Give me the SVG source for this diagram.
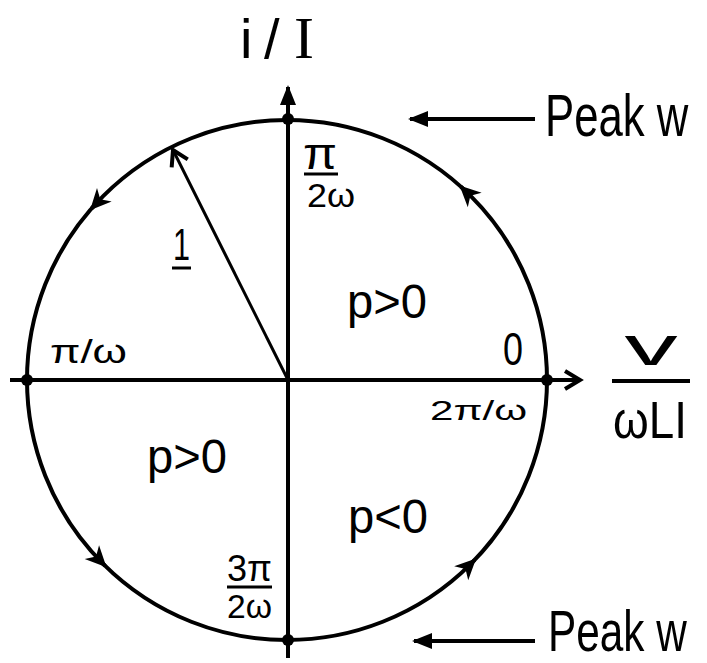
<svg xmlns="http://www.w3.org/2000/svg" width="707" height="663" viewBox="0 0 707 663">
<style>
.t{font-family:"Liberation Sans","DejaVu Sans",sans-serif;fill:#000}
.s{font-family:"Liberation Serif","DejaVu Serif",serif}
.ln{stroke:#000;stroke-width:4;fill:none}
.thin{stroke:#000;stroke-width:3;fill:none}
</style>
<defs>
<marker id="tri" markerUnits="userSpaceOnUse" viewBox="-22 -12 26 24" markerWidth="26" markerHeight="24" refX="0" refY="0" orient="auto">
<path d="M-18,-8 L2,0 L-18,8 z" fill="#000"/>
</marker>
<marker id="chev" markerUnits="userSpaceOnUse" viewBox="-22 -12 26 24" markerWidth="26" markerHeight="24" refX="0" refY="0" orient="auto">
<path d="M-15,-9 L0,0 L-15,9" fill="none" stroke="#000" stroke-width="4"/>
</marker>
<marker id="ctri" markerUnits="userSpaceOnUse" viewBox="-24 -14 28 28" markerWidth="28" markerHeight="28" refX="0" refY="0" orient="auto">
<path d="M-19,-10 L2,0 L-19,10 L-13,0 z" fill="#000"/>
</marker>
</defs>
<g id="circle">
<circle cx="287" cy="380" r="260" class="ln"/>
</g>
<g id="connectors">
<line x1="288" y1="658" x2="288" y2="87" class="ln" marker-end="url(#tri)"/>
<line x1="10" y1="380" x2="580" y2="380" class="ln" marker-end="url(#chev)"/>
<line x1="288" y1="380" x2="173" y2="150" class="thin" marker-end="url(#chev)"/>
<line x1="535" y1="119" x2="410" y2="119" class="ln" marker-end="url(#tri)"/>
<line x1="535" y1="641" x2="414" y2="641" class="ln" marker-end="url(#tri)"/>
<line x1="100.5" y1="198.9" x2="91.4" y2="208.7" class="ln" marker-end="url(#ctri)"/>
<line x1="470.8" y1="196.2" x2="461.0" y2="186.8" class="ln" marker-end="url(#ctri)"/>
<line x1="95.6" y1="556.0" x2="105.1" y2="565.8" class="ln" marker-end="url(#ctri)"/>
<line x1="465.0" y1="569.5" x2="474.7" y2="559.9" class="ln" marker-end="url(#ctri)"/>
</g>
<g id="dots" fill="#000">
<circle cx="288" cy="119" r="6"/>
<circle cx="288" cy="640" r="6"/>
<circle cx="27" cy="380" r="6"/>
<circle cx="547" cy="380" r="6"/>
</g>
<g id="axis-label-y">
<text class="t" y="58" font-size="56"><tspan x="240">i</tspan><tspan x="264">/</tspan><tspan x="294" class="s" font-size="60">I</tspan></text>
</g>
<g id="axis-label-x">
<text class="t" font-size="56" text-anchor="middle" transform="translate(651,365) scale(1.9,1)">v</text>
<line x1="612" y1="381" x2="690" y2="381" class="ln"/>
<text class="t" font-size="52" transform="translate(613,438) scale(0.88,1)">ωLI</text>
</g>
<g id="peak-top">
<text class="t" font-size="46" transform="translate(545,136) scale(0.95,1.3)">Peak w</text>
</g>
<g id="peak-bottom">
<text class="t" font-size="46" transform="translate(548,651) scale(0.92,1.25)">Peak w</text>
</g>
<g id="label-top">
<text class="t" x="320" y="169" font-size="44" text-anchor="middle" textLength="34" lengthAdjust="spacingAndGlyphs">π</text>
<line x1="304" y1="174" x2="338" y2="174" class="thin"/>
<text class="t" x="307" y="207" font-size="34" textLength="48" lengthAdjust="spacingAndGlyphs">2ω</text>
</g>
<g id="label-bottom">
<text class="t" x="227" y="581" font-size="36" textLength="45" lengthAdjust="spacingAndGlyphs">3π</text>
<line x1="227" y1="587" x2="272" y2="587" class="thin"/>
<text class="t" x="227" y="618" font-size="34" textLength="45" lengthAdjust="spacingAndGlyphs">2ω</text>
</g>
<g id="label-left">
<text class="t" x="50" y="363" font-size="34" textLength="77" lengthAdjust="spacingAndGlyphs">π/ω</text>
</g>
<g id="label-right">
<text class="t" x="503" y="365" font-size="46" textLength="20" lengthAdjust="spacingAndGlyphs">0</text>
<text class="t" x="430" y="420" font-size="28" textLength="97" lengthAdjust="spacingAndGlyphs">2π/ω</text>
</g>
<g id="label-radius">
<text class="t" x="173" y="260" font-size="44" textLength="17" lengthAdjust="spacingAndGlyphs">1</text>
<line x1="172" y1="268" x2="191" y2="268" class="thin"/>
</g>
<g id="quadrants">
<text class="t" x="347" y="318" font-size="48" textLength="80" lengthAdjust="spacingAndGlyphs">p&gt;0</text>
<text class="t" x="147" y="473" font-size="48" textLength="80" lengthAdjust="spacingAndGlyphs">p&gt;0</text>
<text class="t" x="348" y="533" font-size="48" textLength="80" lengthAdjust="spacingAndGlyphs">p&lt;0</text>
</g>
</svg>
